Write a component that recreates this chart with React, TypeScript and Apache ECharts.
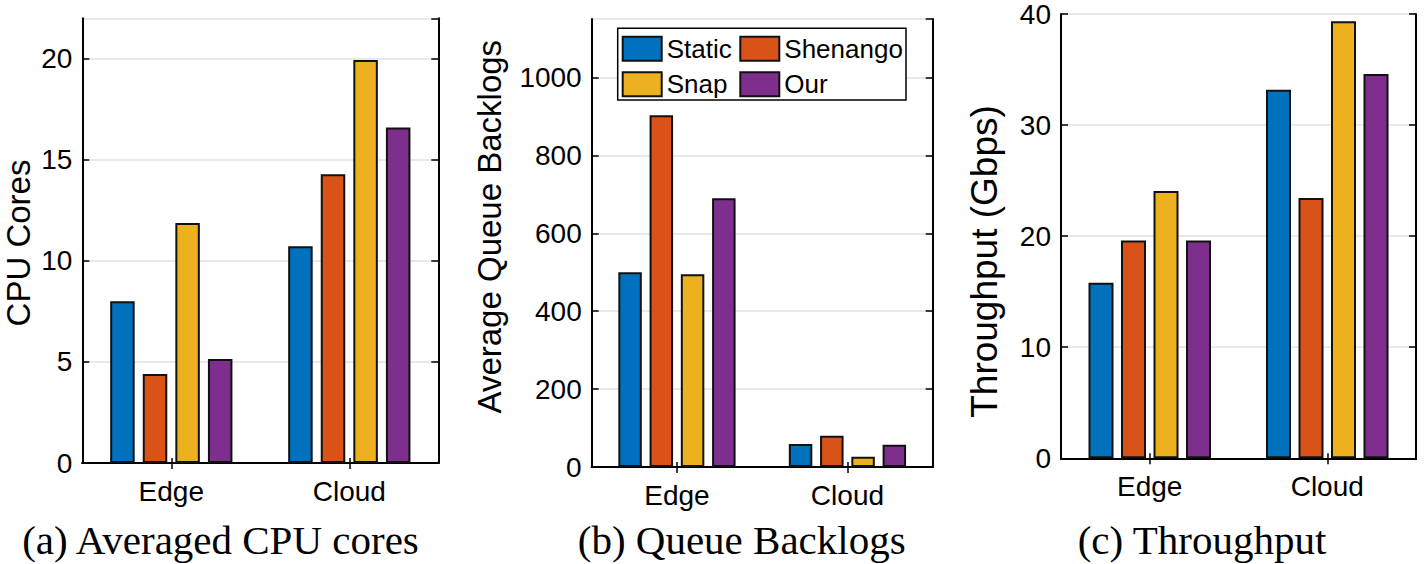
import React, { useEffect, useRef } from "react";
import * as echarts from "echarts";

const categories = ["Edge", "Cloud"];
const methods = ["Static", "Shenango", "Snap", "Our"];
const colors = ["#0072BD", "#D95319", "#EDB120", "#7E2F8E"];

// (a) Averaged CPU cores
const cpuStatic = [8.0, 10.72];
const cpuShenango = [4.4, 14.28];
const cpuSnap = [11.87, 19.94];
const cpuOur = [5.14, 16.6];

// (b) Queue backlogs
const queueStatic = [500, 59];
const queueShenango = [903, 80];
const queueSnap = [495, 26];
const queueOur = [690, 57];

// (c) Throughput (Gbps)
const tputStatic = [15.8, 33.17];
const tputShenango = [19.6, 23.43];
const tputSnap = [24.06, 39.34];
const tputOur = [19.6, 34.6];

const SANS = "'Liberation Sans', Arial, Helvetica, sans-serif";
const SERIF = "'Liberation Serif', 'Times New Roman', serif";

export default function App() {
  const ref = useRef<HTMLDivElement>(null);

  useEffect(() => {
    if (!ref.current) return;
    const chart = echarts.init(ref.current, undefined, { renderer: "svg" });

    const grids = [
      { left: 82.3, top: 18.3, width: 356, height: 444.7 },
      { left: 591.7, top: 19, width: 341, height: 448 },
      { left: 1061, top: 13.3, width: 355, height: 445 },
    ];
    const yCfg = [
      { min: 0, max: 22, interval: 5, showMax: false },
      { min: 0, max: 1150, interval: 200, showMax: false },
      { min: 0, max: 40, interval: 10, showMax: true },
    ];
    const data = [
      [cpuStatic, cpuShenango, cpuSnap, cpuOur],
      [queueStatic, queueShenango, queueSnap, queueOur],
      [tputStatic, tputShenango, tputSnap, tputOur],
    ];
    const barWidths = [24.5, 23.5, 25];
    const barGaps = ["33%", "33%", "30%"];

    const xAxis: any[] = [];
    const yAxis: any[] = [];
    const series: any[] = [];

    grids.forEach((_, g) => {
      xAxis.push({
        type: "category",
        gridIndex: g,
        data: categories,
        position: "bottom",
        axisLine: { show: true, lineStyle: { color: "#000", width: 2 } },
        axisTick: { show: true, inside: true, alignWithLabel: true, length: 5, lineStyle: { color: "#000", width: 1.5 } },
        axisLabel: { fontSize: 28, color: "#000", fontFamily: SANS, margin: 14 },
        splitLine: { show: false },
      });
      xAxis.push({
        type: "category",
        gridIndex: g,
        data: categories,
        position: "top",
        axisLine: { show: true, lineStyle: { color: "#000", width: 2 } },
        axisTick: { show: true, inside: true, alignWithLabel: true, length: 6, lineStyle: { color: "#000", width: 1.5 } },
        axisLabel: { show: false },
        splitLine: { show: false },
      });
      const c = yCfg[g];
      yAxis.push({
        type: "value",
        gridIndex: g,
        position: "left",
        min: c.min,
        max: c.max,
        interval: c.interval,
        axisLine: { show: true, lineStyle: { color: "#000", width: 2 } },
        axisTick: { show: true, inside: true, length: 7, lineStyle: { color: "#000", width: 1.5 } },
        axisLabel: {
          fontSize: 28,
          lineHeight: 26,
          color: "#000",
          fontFamily: SANS,
          margin: 10,
          showMaxLabel: c.showMax,
          formatter: (v: number) => String(v),
        },
        splitLine: { show: true, lineStyle: { color: "#e2e2e2", width: 1.5 } },
      });
      yAxis.push({
        type: "value",
        gridIndex: g,
        position: "right",
        min: c.min,
        max: c.max,
        interval: c.interval,
        axisLine: { show: true, lineStyle: { color: "#000", width: 2 } },
        axisTick: { show: true, inside: true, length: 7, lineStyle: { color: "#000", width: 1.5 } },
        axisLabel: { show: false },
        splitLine: { show: false },
      });
      methods.forEach((m, i) => {
        series.push({
          type: "bar",
          name: m,
          xAxisIndex: g * 2,
          yAxisIndex: g * 2,
          data: data[g][i],
          barWidth: barWidths[g],
          barGap: barGaps[g],
          itemStyle: { color: colors[i], borderColor: "#111", borderWidth: 2 },
        });
      });
    });

    const legendCommon = {
      orient: "vertical",
      itemWidth: 39,
      itemHeight: 24,
      itemGap: 9.5,
      selectedMode: false,
      icon: "rect",
      textStyle: { fontSize: 26, color: "#000", fontFamily: SANS },
      padding: 0,
    };

    const yTitle = (text: string, x: number, y: number, size: number) => ({
      type: "text",
      x,
      y,
      rotation: Math.PI / 2,
      style: {
        text,
        fontSize: size,
        fontFamily: SANS,
        fill: "#000",
        align: "center",
        verticalAlign: "middle",
      },
    });
    const caption = (text: string, x: number, y: number) => ({
      type: "text",
      x,
      y,
      style: { text, fontSize: 41, fontFamily: SERIF, fill: "#000", align: "center", verticalAlign: "middle" },
    });

    chart.setOption({
      animation: false,
      backgroundColor: "#fff",
      grid: grids.map((g) => ({ ...g, containLabel: false })),
      xAxis,
      yAxis,
      series,
      legend: [
        { ...legendCommon, data: ["Static", "Snap"], left: 621.7, top: 35.7 },
        { ...legendCommon, data: ["Shenango", "Our"], left: 739.3, top: 35.7 },
      ],
      graphic: [
        {
          type: "rect",
          z: 3,
          shape: { x: 617.7, y: 28.3, width: 288.3, height: 71.7 },
          style: { fill: "#fff", stroke: "#000", lineWidth: 1.5 },
        },
        yTitle("CPU Cores", 18, 243, 33),
        yTitle("Average Queue Backlogs", 489, 226.7, 33),
        yTitle("Throughput (Gbps)", 984, 261.5, 37),
        caption("(a) Averaged CPU cores", 220.5, 540),
        caption("(b) Queue Backlogs", 741.7, 540),
        caption("(c) Throughput", 1202, 540),
      ],
    });

    return () => chart.dispose();
  }, []);

  return <div ref={ref} style={{ position: "absolute", left: 0, top: 0, width: 1424, height: 564 }} />;
}
